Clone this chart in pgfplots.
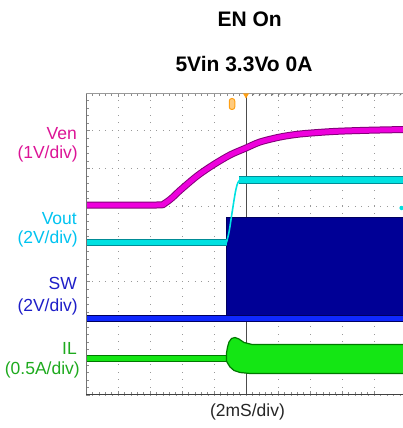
\documentclass[border=0pt]{standalone}
\usepackage{fontspec}
\setmainfont{Liberation Sans}
\usepackage{pgfplots}
\pgfplotsset{compat=1.18}
\usepackage{pgfplotstable}

\definecolor{venC}{RGB}{238,0,220}
\definecolor{venD}{RGB}{130,0,120}
\definecolor{venT}{RGB}{220,20,150}
\definecolor{voutC}{RGB}{0,225,225}
\definecolor{voutD}{RGB}{0,140,150}
\definecolor{voutT}{RGB}{0,195,240}
\definecolor{swNavy}{RGB}{0,0,150}
\definecolor{swD}{RGB}{0,0,95}
\definecolor{swB}{RGB}{15,40,255}
\definecolor{swT}{RGB}{30,30,200}
\definecolor{ilC}{RGB}{20,230,20}
\definecolor{ilD}{RGB}{0,120,0}
\definecolor{ilT}{RGB}{30,170,30}
\definecolor{trig}{RGB}{255,160,20}

% Ven (divisions vs ms)
\pgfplotstableread{
t v
-10 1.033
-5.6 1.033
-5.1 1.075
-4.6 1.230
-4.125 1.420
-3.0625 1.801
-2.0625 2.093
-1.0 2.358
0 2.543
0.875 2.702
2.125 2.834
3.375 2.914
5.4375 2.980
7.5625 3.012
9.9 3.033
}\venTable

\begin{document}
\begin{tikzpicture}[x=1pt,y=1pt]
\useasboundingbox (-86,-33) rectangle (317,395);
\begin{axis}[at={(0,0)}, anchor=south west, scale only axis,
  width=317pt, height=302pt,
  xmin=-10, xmax=9.8125, ymin=-4, ymax=4,
  xtick={-10,-8,...,8}, ytick={-4,...,4},
  minor x tick num=4, minor y tick num=4,
  xticklabels={}, yticklabels={},
  tick align=inside, xtick pos=both, ytick pos=left,
  major tick length=4pt, minor tick length=3pt,
  tick style={black!45, line width=0.6pt},
  axis line style={draw=none},
  grid=major,
  x grid style={black!40, line width=0.7pt, dash pattern=on 0.8pt off 6.75pt},
  y grid style={black!40, line width=0.7pt, dash pattern=on 0.8pt off 5.6pt},
]
% centre cross
\draw[black!70, line width=0.8pt] (axis cs:0,-4) -- (axis cs:0,4);
\pgfplotsinvokeforeach{-3.8,-3.6,...,3.8}{
  \draw[black!60, line width=0.6pt] (axis cs:0,#1) ++(-2.5pt,0) -- ++(5pt,0);
}
\pgfplotsinvokeforeach{-9.6,-9.2,...,9.6}{
  \draw[black!60, line width=0.6pt] (axis cs:#1,0) ++(0,-2.5pt) -- ++(0,5pt);
}

% Ven
\addplot[venD, line width=7pt, smooth, line join=round] table {\venTable};
\addplot[venC, line width=5pt, smooth, line join=round] table {\venTable};

% SW
\addplot[fill=swNavy, draw=swD, line width=1pt] coordinates {(-1.21,-1.926) (-1.21,0.689) (9.9,0.689) (9.9,-1.926)} -- cycle;
\addplot[swD, line width=7pt] coordinates {(-10,-1.974) (9.9,-1.974)};
\addplot[swB, line width=5.5pt] coordinates {(-10,-1.974) (9.9,-1.974)};

% Vout
\addplot[voutD, line width=6.5pt] coordinates {(-10,0.04) (-1.21,0.04)};
\addplot[voutC, line width=4.5pt] coordinates {(-10,0.04) (-1.21,0.04)};
\addplot[voutC, line width=1.6pt, smooth] coordinates {(-1.22,0.04) (-1.06,0.32) (-0.875,0.82) (-0.6875,1.32) (-0.5625,1.56) (-0.4375,1.67) (-0.25,1.695)};
\addplot[voutD, line width=7.5pt] coordinates {(-0.45,1.695) (9.9,1.695)};
\addplot[voutC, line width=5.5pt] coordinates {(-0.45,1.695) (9.9,1.695)};
\addplot[only marks, mark=*, mark size=2pt, voutC] coordinates {(9.73,0.954)};

% IL
\addplot[ilD, line width=7pt] coordinates {(-10,-3.02) (-1.2,-3.02)};
\addplot[ilC, line width=5pt] coordinates {(-10,-3.02) (-1.2,-3.02)};
\addplot[fill=ilC, draw=ilD, line width=1.2pt] coordinates {
(-1.219,-2.887) (-1.156,-2.728) (-1.0625,-2.596) (-0.906,-2.503) (-0.6875,-2.477)
(-0.4375,-2.517) (-0.125,-2.609) (0.375,-2.662) (9.9,-2.662) (9.9,-3.430)
(0.25,-3.430) (-0.375,-3.404) (-0.75,-3.351) (-1.0,-3.258) (-1.156,-3.152) (-1.219,-3.099)} -- cycle;

% frame
\draw[black!55, line width=0.9pt] (rel axis cs:0,0) -- (rel axis cs:0,1);
\draw[black!40, line width=0.9pt] (rel axis cs:0,1) -- (rel axis cs:1,1);
\draw[black!75, line width=1.6pt] (rel axis cs:0,0) -- (rel axis cs:1,0);

% trigger markers
\addplot[only marks, mark=triangle*, mark size=3pt, trig, mark options={rotate=180}] coordinates {(0,3.947)};
\addplot[only marks, mark=square*, mark size=1.3pt, trig] coordinates {(-0.44,4.02)};
\addplot[only marks, mark=square*, mark size=1.1pt, black!80] coordinates {(8.06,4.02)};
\node[draw=trig, fill=trig!55!white, line width=1pt, rounded corners=2.5pt,
  minimum width=5.5pt, minimum height=11pt, inner sep=0pt] at (axis cs:-0.875,3.709) {};
\end{axis}

% titles
\node[anchor=base, font=\fontsize{21}{25}\selectfont\bfseries] at (163.7,368.3) {EN On};
\node[anchor=base, font=\fontsize{21}{25}\selectfont\bfseries] at (158,323.3) {5Vin 3.3Vo 0A};

% channel labels
\begin{scope}[every node/.style={anchor=base east, inner sep=0pt, font=\fontsize{17.5}{20}\selectfont}]
\node[text=venT] at (-9,255) {Ven};
\node[text=venT] at (-8,236) {(1V/div)};
\node[text=voutT] at (-9,170) {Vout};
\node[text=voutT] at (-8,151.7) {(2V/div)};
\node[text=swT] at (-9,105) {SW};
\node[text=swT] at (-8,83.3) {(2V/div)};
\node[text=ilT] at (-9,40) {IL};
\node[text=ilT] at (-6,20.7) {(0.5A/div)};
\end{scope}
\node[anchor=base, inner sep=0pt, text=black!85, font=\fontsize{17.5}{20}\selectfont] at (161.5,-21) {(2mS/div)};
\end{tikzpicture}
\end{document}
